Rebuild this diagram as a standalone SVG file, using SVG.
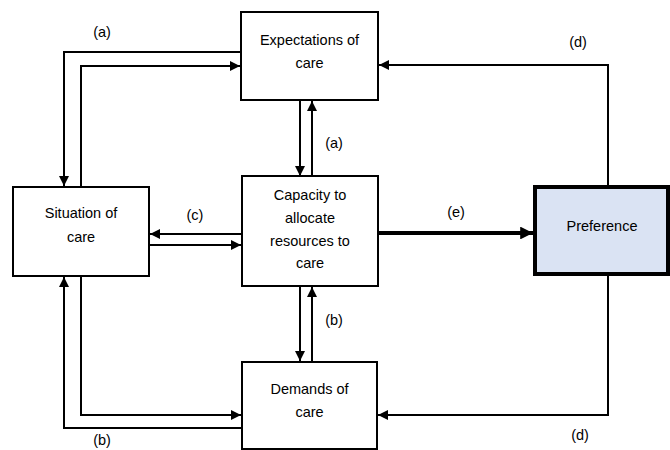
<svg xmlns="http://www.w3.org/2000/svg" width="670" height="450" viewBox="0 0 670 450">
<defs>
<style>
.box{fill:#fff;stroke:#000;stroke-width:2}
.pref{fill:#dae3f3;stroke:#000;stroke-width:4}
.lbl{font-family:"Liberation Sans",Arial,sans-serif;font-size:14.5px;fill:#000;text-anchor:middle}
.ln{fill:none;stroke:#000;stroke-width:2}
.thick{fill:none;stroke:#000;stroke-width:4}
</style>
<marker id="ah" viewBox="0 0 10 10" refX="10" refY="5" markerWidth="5" markerHeight="5" orient="auto" markerUnits="strokeWidth">
<path d="M0,0 L10,5 L0,10 z" fill="#000"/>
</marker>
<marker id="ahT" viewBox="0 0 10 10" refX="10" refY="5" markerWidth="3.2" markerHeight="3.2" orient="auto" markerUnits="strokeWidth">
<path d="M0,0 L10,5 L0,10 z" fill="#000"/>
</marker>
</defs>
<rect width="670" height="450" fill="#fff"/>
<g id="connectors">
<!-- (a) top-left -->
<polyline class="ln" points="241,52 64,52 64,186" marker-end="url(#ah)"/>
<polyline class="ln" points="81,187 81,66 240,66" marker-end="url(#ah)"/>
<!-- Expectations <-> Capacity -->
<line class="ln" x1="300" y1="100" x2="300" y2="176" marker-end="url(#ah)"/>
<line class="ln" x1="312" y1="176" x2="312" y2="101" marker-end="url(#ah)"/>
<!-- (c) -->
<line class="ln" x1="242" y1="234" x2="150" y2="234" marker-end="url(#ah)"/>
<line class="ln" x1="149" y1="245" x2="241" y2="245" marker-end="url(#ah)"/>
<!-- (e) -->
<line class="thick" x1="378" y1="233" x2="533" y2="233" marker-end="url(#ahT)"/>
<!-- (d) -->
<polyline class="ln" points="608,187 608,65 379,65" marker-end="url(#ah)"/>
<polyline class="ln" points="608,274 608,415 378,415" marker-end="url(#ah)"/>
<!-- Capacity <-> Demands -->
<line class="ln" x1="300" y1="286" x2="300" y2="361" marker-end="url(#ah)"/>
<line class="ln" x1="312" y1="362" x2="312" y2="287" marker-end="url(#ah)"/>
<!-- (b) bottom-left -->
<polyline class="ln" points="81,276 81,415 241,415" marker-end="url(#ah)"/>
<polyline class="ln" points="242,428 64,428 64,277" marker-end="url(#ah)"/>
</g>
<g id="expectations">
<rect class="box" x="241" y="12" width="137" height="88"/>
<text class="lbl" x="309.5" y="45">Expectations of</text>
<text class="lbl" x="309.5" y="68">care</text>
</g>
<g id="situation">
<rect class="box" x="13" y="187" width="136" height="89"/>
<text class="lbl" x="81" y="218">Situation of</text>
<text class="lbl" x="81" y="242">care</text>
</g>
<g id="capacity">
<rect class="box" x="242" y="176" width="136" height="110"/>
<text class="lbl" x="310" y="200">Capacity to</text>
<text class="lbl" x="310" y="223">allocate</text>
<text class="lbl" x="310" y="246">resources to</text>
<text class="lbl" x="310" y="268">care</text>
</g>
<g id="preference">
<rect class="pref" x="535" y="187" width="133" height="87"/>
<text class="lbl" x="602" y="231">Preference</text>
</g>
<g id="demands">
<rect class="box" x="242" y="362" width="135" height="87"/>
<text class="lbl" x="309.5" y="394">Demands of</text>
<text class="lbl" x="309.5" y="417">care</text>
</g>
<g id="labels">
<text class="lbl" x="102" y="37">(a)</text>
<text class="lbl" x="334" y="148">(a)</text>
<text class="lbl" x="195" y="220">(c)</text>
<text class="lbl" x="456" y="217">(e)</text>
<text class="lbl" x="578" y="47">(d)</text>
<text class="lbl" x="580" y="440">(d)</text>
<text class="lbl" x="334" y="325">(b)</text>
<text class="lbl" x="102" y="445">(b)</text>
</g>
</svg>
